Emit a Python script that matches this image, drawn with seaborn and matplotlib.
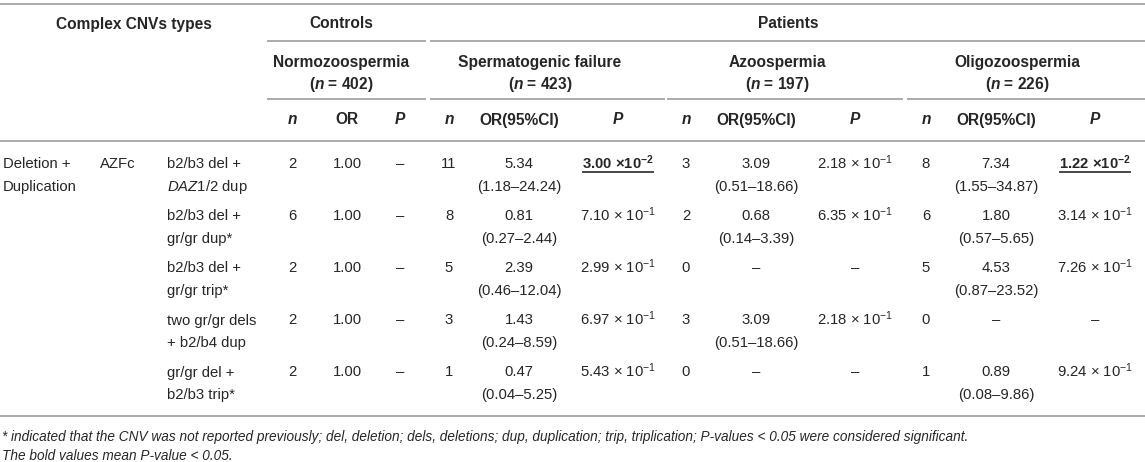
import matplotlib
matplotlib.use('Agg')
import matplotlib.pyplot as plt
import seaborn as sns

# ---- table content ----
cnv_kind = ['Deletion +', 'Duplication']
cnv_region = 'AZFc'
cnv_types = [
    ['b2/b3 del +', r'$\mathit{DAZ}$1/2 dup'],
    ['b2/b3 del +', 'gr/gr dup*'],
    ['b2/b3 del +', 'gr/gr trip*'],
    ['two gr/gr dels', '+ b2/b4 dup'],
    ['gr/gr del +', 'b2/b3 trip*'],
]

control_name = 'Normozoospermia'
control_size = 402
ctrl_n = [2, 6, 2, 2, 2]
ctrl_or = [1.00, 1.00, 1.00, 1.00, 1.00]

group_names = ['Spermatogenic failure', 'Azoospermia', 'Oligozoospermia']
group_sizes = [423, 197, 226]
group_n = [
    [11, 8, 5, 3, 1],
    [3, 2, 0, 3, 0],
    [8, 6, 5, 0, 1],
]
group_or = [
    [5.34, 0.81, 2.39, 1.43, 0.47],
    [3.09, 0.68, None, 3.09, None],
    [7.34, 1.80, 4.53, None, 0.89],
]
group_ci = [
    [(1.18, 24.24), (0.27, 2.44), (0.46, 12.04), (0.24, 8.59), (0.04, 5.25)],
    [(0.51, 18.66), (0.14, 3.39), None, (0.51, 18.66), None],
    [(1.55, 34.87), (0.57, 5.65), (0.87, 23.52), None, (0.08, 9.86)],
]
group_p = [
    [3.00e-2, 7.10e-1, 2.99e-1, 6.97e-1, 5.43e-1],
    [2.18e-1, 6.35e-1, None, 2.18e-1, None],
    [1.22e-2, 3.14e-1, 7.26e-1, None, 9.24e-1],
]

footnotes = [
    '* indicated that the CNV was not reported previously; del, deletion; dels, deletions; '
    'dup, duplication; trip, triplication; P-values < 0.05 were considered significant.',
    'The bold values mean P-value < 0.05.',
]

# ---- layout (pixels) ----
W, H = 1145, 462
TXT = '#262626'
LINE = '#ababab'
FS = 10.7
FS_HEAD = 11.2

ctrl_span = (267, 426)
ctrl_cols = (292, 347, 400)
group_spans = [(430, 665), (667, 903), (907, 1145)]
row_y = [163, 215, 267, 319, 371]
line2 = 22.5


def fmt_p(p):
    if p is None:
        return '–', False
    m, e = f'{p:.2e}'.split('e')
    e = int(e)
    if p < 0.05:
        return m + r' ×10$^{\mathbf{' + str(e) + '}}$', True
    return m + r' × 10$^{' + str(e) + '}$', False


sns.set_style('white')
plt.rcParams['font.family'] = ['Liberation Sans', 'DejaVu Sans']
plt.rcParams['mathtext.fontset'] = 'custom'
plt.rcParams['mathtext.rm'] = 'Liberation Sans'
plt.rcParams['mathtext.it'] = 'Liberation Sans:italic'
plt.rcParams['mathtext.bf'] = 'Liberation Sans:bold'
plt.rcParams['mathtext.sf'] = 'Liberation Sans:bold:italic'

fig = plt.figure(figsize=(W / 100, H / 100), dpi=100)
ax = fig.add_axes([0, 0, 1, 1])
ax.set_xlim(0, W)
ax.set_ylim(H, 0)
ax.axis('off')


def put(x, y, s, ha='center', fs=FS, **kw):
    # y is the visual middle of a text line; shift to baseline
    return ax.text(x, y + 5.5, s, ha=ha, va='baseline', fontsize=fs,
                   color=TXT, **kw)


def head(x, y, s, **kw):
    return put(x, y, s, fs=FS_HEAD, fontweight='bold', **kw)


def hline(y, x0, x1):
    ax.plot([x0, x1], [y, y], color=LINE, lw=1.4, solid_capstyle='butt')


# rules
hline(4, 0, W)
hline(41, ctrl_span[0], ctrl_span[1])
hline(41, group_spans[0][0], W)
hline(99, *ctrl_span)
for s in group_spans:
    hline(99, *s)
hline(141, 0, W)
hline(416, 0, W)

# header
head(134, 23, 'Complex CNVs types')
head(341, 23, 'Controls')
head(788, 23, 'Patients')

head(341, 62, control_name)
head(341, 83, r'($\mathsf{n}$ = ' + str(control_size) + ')')
for (x0, x1), name, size in zip(group_spans, group_names, group_sizes):
    head(x0 + 110, 62, name)
    head(x0 + 110, 83, r'($\mathsf{n}$ = ' + str(size) + ')')

head(ctrl_cols[0], 119, 'n', fontstyle='italic')
head(ctrl_cols[1], 119, 'OR')
head(ctrl_cols[2], 119, 'P', fontstyle='italic')
for x0, x1 in group_spans:
    head(x0 + 19, 119, 'n', fontstyle='italic')
    head(x0 + 89, 119, 'OR(95%CI)')
    head(x0 + 188, 119, 'P', fontstyle='italic')

# body
put(3, row_y[0], cnv_kind[0], ha='left')
put(3, row_y[0] + line2, cnv_kind[1], ha='left')
put(100, row_y[0], cnv_region, ha='left')

underlined = []
for i, y in enumerate(row_y):
    put(167, y, cnv_types[i][0], ha='left')
    put(167, y + line2, cnv_types[i][1], ha='left')
    put(ctrl_cols[0], y, str(ctrl_n[i]))
    put(ctrl_cols[1], y, f'{ctrl_or[i]:.2f}')
    put(ctrl_cols[2], y, '–')
    for g, (x0, x1) in enumerate(group_spans):
        put(x0 + 19, y, str(group_n[g][i]))
        o = group_or[g][i]
        put(x0 + 89, y, '–' if o is None else f'{o:.2f}')
        ci = group_ci[g][i]
        if ci is not None:
            put(x0 + 89, y + line2, f'({ci[0]:.2f}–{ci[1]:.2f})')
        s, bold = fmt_p(group_p[g][i])
        t = put(x0 + 188, y, s, fontweight='bold' if bold else 'normal')
        if bold:
            underlined.append((t, y))

# footnotes
put(2, 435, footnotes[0], ha='left', fontstyle='italic', fs=9.8)
put(2, 454, footnotes[1], ha='left', fontstyle='italic', fs=9.8)

fig.canvas.draw()
r = fig.canvas.get_renderer()
for t, y in underlined:
    bb = t.get_window_extent(renderer=r)
    ax.plot([bb.x0, bb.x1], [y + 9, y + 9], color='#3a3a3a', lw=1.3,
            solid_capstyle='butt')

fig.savefig('out.png', dpi=100)
